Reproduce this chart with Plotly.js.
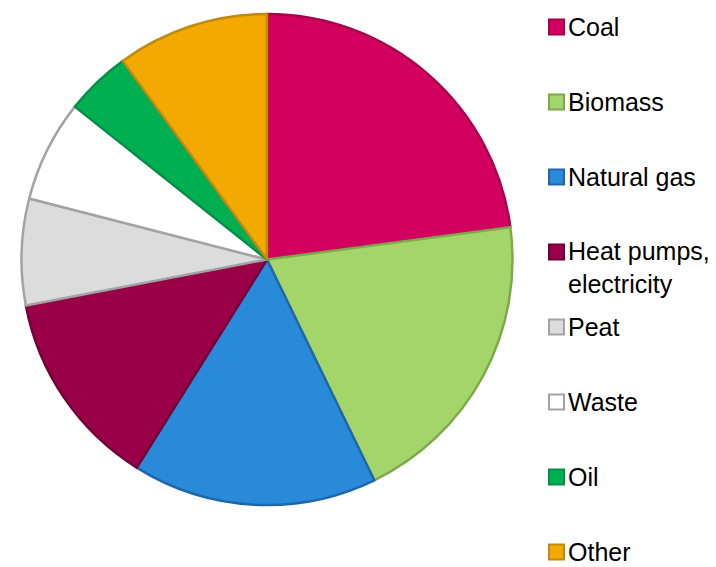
<!DOCTYPE html>
<html>
<head>
<meta charset="utf-8">
<script src="https://cdn.plot.ly/plotly-3.0.1.min.js"></script>
<style>
  html, body { margin: 0; padding: 0; background: #ffffff; }
  #chart { width: 716px; height: 567px; }
</style>
</head>
<body>
<div id="chart"></div>
<script>
// ---- data ----
var categories = ["Coal", "Biomass", "Natural gas", "Heat pumps,<br>electricity", "Peat", "Waste", "Oil", "Other"];
var shares = [22.9, 19.9, 16.1, 13.1, 7.0, 6.7, 4.3, 10.0];
var fillColors = ["#D2005E", "#A4D56A", "#2A8ADA", "#990048", "#DCDCDC", "#FFFFFF", "#00B050", "#F2A900"];
var edgeColors = ["#A8004B", "#7FA84A", "#1E67AA", "#74003A", "#A3A3A3", "#A3A3A3", "#00904A", "#C08A10"];

// ---- layout helpers (pixels -> paper, margins are 0) ----
var W = 716, H = 567;
function px(x) { return x / W; }
function py(y) { return 1 - y / H; }

var cx = 267, cy = 259.5, r = 245.5;

var pie = {
  type: "pie",
  labels: categories,
  values: shares,
  sort: false,
  direction: "clockwise",
  rotation: 0,
  textinfo: "none",
  hoverinfo: "label+percent",
  marker: { colors: fillColors, line: { color: edgeColors, width: 2.5 } },
  domain: { x: [px(cx - r), px(cx + r)], y: [py(cy + r), py(cy - r)] },
  showlegend: false
};

// custom legend built from the category arrays
var legStart = 27, legStep = 75, sq = 15, sqX = 549, txtX = 567, lineH = 30;
var shapes = [], annotations = [];
categories.forEach(function (name, i) {
  var yc = legStart + i * legStep;
  shapes.push({
    type: "rect", xref: "paper", yref: "paper",
    x0: px(sqX), x1: px(sqX + sq), y0: py(yc + sq / 2), y1: py(yc - sq / 2),
    fillcolor: fillColors[i], line: { color: edgeColors[i], width: 2 }
  });
  var nLines = name.split("<br>").length;
  annotations.push({
    xref: "paper", yref: "paper", x: px(txtX), y: py(yc + (nLines - 1) * lineH / 2),
    xanchor: "left", yanchor: "middle", align: "left", showarrow: false, borderpad: 0,
    text: name, font: { family: "Liberation Sans, Arial, sans-serif", size: 25, color: "#000000" }
  });
});

var layout = {
  width: W, height: H,
  margin: { l: 0, r: 0, t: 0, b: 0 },
  paper_bgcolor: "#ffffff",
  plot_bgcolor: "#ffffff",
  showlegend: false,
  shapes: shapes,
  annotations: annotations
};

Plotly.newPlot("chart", [pie], layout, { displayModeBar: false, staticPlot: true });
</script>
</body>
</html>
